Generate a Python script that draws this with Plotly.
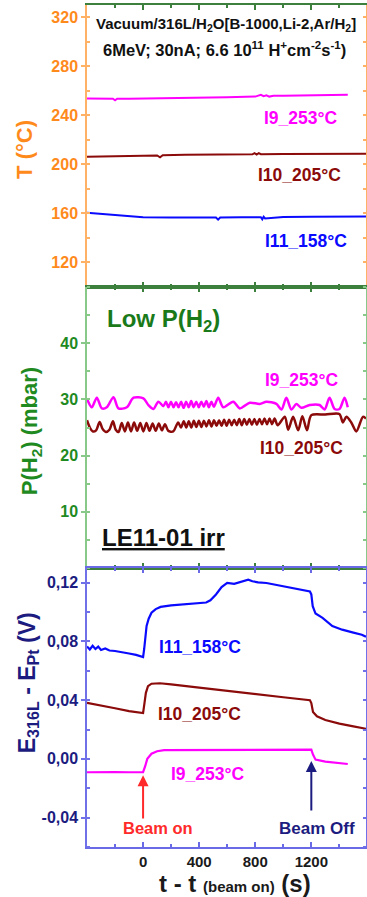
import plotly.graph_objects as go

# ---------------- data ----------------
# Temperature panel (t in s, T in degC)
T_I9_t = [-400, -300, -215, -200, -185, -100, 0, 200, 400, 600, 800, 840, 860, 880, 900, 930, 1000, 1200, 1460]
T_I9 = [253.8, 253.7, 253.5, 252.3, 253.6, 253.6, 253.7, 254.0, 254.3, 254.7, 255.3, 256.8, 255.6, 256.4, 255.3, 255.9, 256.0, 256.3, 256.8]

T_I10_t = [-400, -200, 0, 100, 121, 140, 300, 500, 780, 795, 810, 825, 840, 1000, 1200, 1590]
T_I10 = [206.3, 206.6, 207.0, 207.3, 205.8, 207.5, 207.8, 208.0, 208.2, 209.2, 208.0, 209.2, 208.3, 208.4, 208.5, 208.6]

T_I11_t = [-400, -300, -200, -100, 0, 200, 400, 520, 535, 550, 700, 840, 850, 860, 870, 1000, 1200, 1590]
T_I11 = [160.5, 159.6, 158.3, 157.3, 156.9, 156.6, 156.5, 156.6, 154.9, 156.7, 156.8, 156.9, 155.2, 157.3, 155.9, 157.1, 157.3, 157.5]

# Pressure panel (t, P(H2) mbar)
P_I9 = [(-400, 30.1), (-366, 28.6), (-330, 30.3), (-294, 28.4), (-259, 28.6), (-211, 30.4), (-176, 28.4),
        (-116, 28.6), (-68, 30.3), (2, 30.2), (38, 29.0), (74, 28.3), (109, 29.6), (145, 28.8), (163, 29.6),
        (181, 28.6), (199, 29.6), (217, 28.6), (235, 29.5), (253, 28.6), (271, 29.6), (289, 28.5), (307, 29.6),
        (325, 28.6), (343, 29.7), (361, 28.6), (379, 29.6), (397, 28.6), (415, 29.6), (433, 28.7), (451, 29.7),
        (469, 28.6), (487, 29.6), (505, 28.7), (536, 30.3), (572, 28.6), (643, 29.6), (690, 28.4), (761, 29.4),
        (832, 29.2), (880, 29.6), (951, 29.2), (987, 28.2), (1022, 30.3), (1058, 28.2), (1093, 29.2),
        (1129, 28.5), (1188, 29.0), (1259, 29.0), (1295, 28.2), (1330, 30.3), (1366, 28.3), (1401, 28.3),
        (1437, 30.3), (1460, 28.6)]

P_I10 = [(-400, 26.3), (-380, 25.0), (-360, 24.3), (-335, 24.5), (-310, 26.0), (-290, 24.8), (-265, 24.2),
         (-240, 24.6), (-215, 26.1), (-195, 24.6), (-175, 24.2), (-152, 25.8), (-130, 24.3), (-108, 25.9),
         (-86, 24.3), (-64, 25.9), (-42, 24.4), (-20, 25.8), (2, 24.3), (24, 25.8), (46, 24.4), (68, 25.7),
         (90, 24.4), (112, 25.7), (134, 24.5), (156, 25.6), (180, 24.4), (215, 24.3), (250, 25.9), (270, 25.0),
         (290, 26.1), (308, 25.0), (326, 26.1), (344, 25.0), (362, 26.2), (380, 25.1), (398, 26.2), (416, 25.1),
         (434, 26.2), (452, 25.2), (470, 26.3), (488, 25.2), (506, 26.3), (524, 25.3), (542, 26.3), (560, 25.3),
         (578, 26.4), (596, 25.3), (614, 26.4), (632, 25.4), (650, 26.4), (668, 25.4), (686, 26.5), (704, 25.4),
         (722, 26.5), (740, 25.5), (758, 26.5), (776, 25.5), (794, 26.5), (812, 25.5), (830, 26.5), (848, 25.6),
         (866, 26.6), (884, 25.6), (902, 26.6), (920, 25.6), (938, 26.6), (960, 25.4), (1011, 26.9), (1035, 24.6),
         (1070, 26.9), (1106, 24.5), (1136, 27.0), (1169, 24.5), (1200, 27.2), (1300, 27.3), (1400, 27.4),
         (1425, 25.9), (1450, 26.9), (1485, 25.9), (1521, 24.3), (1568, 26.9), (1590, 26.6)]

# Potential panel (t, E316L - EPt in V)
E_I11 = [(-400, 0.0766), (-380, 0.0745), (-360, 0.0770), (-340, 0.0748), (-320, 0.0765), (-300, 0.0742),
         (-270, 0.0752), (-240, 0.0738), (-200, 0.0735), (-150, 0.0728), (-100, 0.0718), (-50, 0.0708),
         (-10, 0.0695), (0, 0.0693), (8, 0.0750), (15, 0.0840), (25, 0.0905), (40, 0.0955), (60, 0.0995),
         (90, 0.1020), (125, 0.1035), (200, 0.1045), (300, 0.1052), (400, 0.1060), (450, 0.1065), (480, 0.1080),
         (520, 0.1120), (560, 0.1170), (600, 0.1198), (650, 0.1192), (700, 0.1205), (750, 0.1220), (780, 0.1210),
         (820, 0.1202), (880, 0.1198), (950, 0.1185), (1050, 0.1165), (1120, 0.1150), (1190, 0.1140),
         (1200, 0.1120), (1210, 0.1040), (1230, 0.0990), (1280, 0.0960), (1350, 0.0905), (1420, 0.0880),
         (1500, 0.0860), (1560, 0.0845), (1590, 0.0832)]

E_I10 = [(-400, 0.0382), (-300, 0.0365), (-200, 0.0345), (-100, 0.0325), (-10, 0.0310), (0, 0.0312),
         (10, 0.0380), (20, 0.0450), (35, 0.0495), (60, 0.0512), (120, 0.0515), (200, 0.0508), (400, 0.0485),
         (600, 0.0462), (800, 0.0440), (1000, 0.0420), (1190, 0.0400), (1200, 0.0380), (1212, 0.0320),
         (1240, 0.0290), (1300, 0.0265), (1400, 0.0240), (1500, 0.0222), (1590, 0.0205)]

E_I9 = [(-400, -0.0091), (-300, -0.0090), (-250, -0.0086), (-200, -0.0090), (-100, -0.0091), (-10, -0.0092),
        (0, -0.0090), (15, -0.0050), (30, 0.0000), (60, 0.0035), (100, 0.0052), (150, 0.0060), (400, 0.0060),
        (800, 0.0060), (1000, 0.0062), (1200, 0.0063), (1212, 0.0030), (1230, -0.0005), (1300, -0.0018),
        (1400, -0.0028), (1460, -0.0035)]

x_tickvals = [0, 400, 800, 1200]
x_ticktext = ["0", "400", "800", "1200"]
T_tickvals = [120, 160, 200, 240, 280, 320]
P_tickvals = [10, 20, 30, 40]
E_tickvals = [-0.04, 0.0, 0.04, 0.08, 0.12]
E_ticktext = ["-0,04", "0,00", "0,04", "0,08", "0,12"]

# ---------------- styles ----------------
MAG = "#ff00ff"
DRED = "#8b0a0a"
BLUE = "#0a0aff"
ORANGE = "#ff8a1c"
GREEN = "#1f8a1f"
NAVY = "#1c1c80"
FONT = "Liberation Sans"

fig = go.Figure()


def xy(pairs):
    return [p[0] for p in pairs], [p[1] for p in pairs]


fig.add_trace(go.Scatter(x=T_I9_t, y=T_I9, mode="lines", line=dict(color=MAG, width=2), xaxis="x", yaxis="y"))
fig.add_trace(go.Scatter(x=T_I10_t, y=T_I10, mode="lines", line=dict(color=DRED, width=2), xaxis="x", yaxis="y"))
fig.add_trace(go.Scatter(x=T_I11_t, y=T_I11, mode="lines", line=dict(color=BLUE, width=2), xaxis="x", yaxis="y"))

for pairs, col in [(P_I9, MAG), (P_I10, DRED)]:
    xs, ys = xy(pairs)
    fig.add_trace(go.Scatter(x=xs, y=ys, mode="lines", line=dict(color=col, width=2.5, shape="spline", smoothing=0.8),
                             xaxis="x2", yaxis="y2"))

for pairs, col in [(E_I11, BLUE), (E_I10, DRED), (E_I9, MAG)]:
    xs, ys = xy(pairs)
    fig.add_trace(go.Scatter(x=xs, y=ys, mode="lines", line=dict(color=col, width=2.2), xaxis="x3", yaxis="y3"))

XR = [-400, 1590]
d3 = [0, 279 / 842]
d2 = [279 / 842, 560 / 842]
d1 = [560 / 842, 1]


def xax(anchor, linecolor, labels):
    return dict(range=XR, anchor=anchor, domain=[0, 1], showline=True, mirror="ticks", linecolor=linecolor,
                linewidth=1.5, ticks="inside", ticklen=5, tickwidth=1.5, tickcolor=linecolor,
                tickvals=x_tickvals, ticktext=x_ticktext, showticklabels=labels, showgrid=False, zeroline=False,
                automargin=False,
                tickfont=dict(family=FONT, size=15, color="#1a1a1a", weight="bold"),
                minor=dict(dtick=200, tick0=0, ticks="inside", ticklen=3, tickcolor=linecolor))


def yax(anchor, dom, rng, tv, tt, col, linecol, minor_dt):
    d = dict(range=rng, anchor=anchor, domain=dom, showline=True, mirror="ticks", linecolor=linecol,
             linewidth=1.5, ticks="outside", ticklen=4, tickwidth=1.5, tickcolor=linecol,
             tickvals=tv, showgrid=False, zeroline=False, automargin=False,
             tickfont=dict(family=FONT, size=16, color=col, weight="bold"),
             minor=dict(dtick=minor_dt, ticks="inside", ticklen=3, tickcolor=linecol))
    if tt is not None:
        d["ticktext"] = tt
    return d


fig.update_layout(
    template="none",
    width=367, height=897,
    margin=dict(l=87, r=1, t=5, b=50, autoexpand=False),
    paper_bgcolor="white", plot_bgcolor="white",
    showlegend=False,
    font=dict(family=FONT),
    xaxis=xax("y", "#3d7f3d", False),
    xaxis2=xax("y2", "#3d7f3d", False),
    xaxis3=xax("y3", "#6a6ae6", True),
    yaxis=yax("x", d1, [100, 330], T_tickvals, None, ORANGE, "#ffb266", 20),
    yaxis2=yax("x2", d2, [0, 50], P_tickvals, None, GREEN, "#88c888", 5),
    yaxis3=yax("x3", d3, [-0.06, 0.13], E_tickvals, E_ticktext, NAVY, "#7070e8", 0.02),
)


def bold(size, color):
    return dict(family=FONT, size=size, color=color, weight="bold")


def label(x, y, xref, yref, text, font, xanchor="center", angle=0):
    return dict(x=x, y=y, xref=xref, yref=yref, text=text, font=font, showarrow=False,
                xanchor=xanchor, yanchor="middle", textangle=angle)


ann = []
# top panel
ann.append(label(591, 314.5, "x", "y", "Vacuum/316L/H<sub>2</sub>O[B-1000,Li-2,Ar/H<sub>2</sub>]",
                 bold(15, "#111111")))
ann.append(label(584, 294, "x", "y",
                 "6MeV; 30nA; 6.6 10<sup>11</sup> H<sup>+</sup>cm<sup>-2</sup>s<sup>-1</sup>)",
                 bold(16.5, "#111111")))
ann.append(label(1124, 238, "x", "y", "I9_253°C", bold(17.5, MAG)))
ann.append(label(1117, 191.3, "x", "y", "I10_205°C", bold(17.5, DRED)))
ann.append(label(1160, 137.9, "x", "y", "I11_158°C", bold(17.5, BLUE)))
# middle panel
ann.append(label(-270, 44, "x2", "y2", "Low P(H<sub>2</sub>)", bold(24, "#1a7a1a"), xanchor="left"))
ann.append(label(1132, 33.4, "x2", "y2", "I9_253°C", bold(17.5, MAG)))
ann.append(label(1132, 21.3, "x2", "y2", "I10_205°C", bold(17.5, DRED)))
ann.append(label(149, 5.4, "x2", "y2", "<u>LE11-01 irr</u>", bold(24, "#111111")))
# bottom panel
ann.append(label(406, 0.0764, "x3", "y3", "I11_158°C", bold(17.5, BLUE)))
ann.append(label(399, 0.0303, "x3", "y3", "I10_205°C", bold(17.5, DRED)))
ann.append(label(463, -0.0104, "x3", "y3", "I9_253°C", bold(17.5, MAG)))
ann.append(label(103, -0.0471, "x3", "y3", "Beam on", bold(16.5, "#ff2a2a")))
ann.append(label(1242, -0.0471, "x3", "y3", "Beam Off", bold(17, NAVY)))
ann.append(dict(x=0, y=-0.0111, ax=0, ay=-0.0416, xref="x3", yref="y3", axref="x3", ayref="y3",
                showarrow=True, arrowhead=2, arrowsize=1.1, arrowwidth=2, arrowcolor="#ff2a2a", text=""))
ann.append(dict(x=1200, y=-0.0014, ax=1200, ay=-0.0362, xref="x3", yref="y3", axref="x3", ayref="y3",
                showarrow=True, arrowhead=2, arrowsize=1.1, arrowwidth=2, arrowcolor=NAVY, text=""))
# axis titles
ann.append(label(-0.222, 0.828, "paper", "paper", "T (°C)", bold(22, ORANGE), angle=-90))
ann.append(label(-0.20, 0.494, "paper", "paper", "P(H<sub>2</sub>) (mbar)", bold(22, GREEN), angle=-90))
ann.append(label(-0.21, 0.195, "paper", "paper", "E<sub>316L</sub> - E<sub>Pt</sub> (V)", bold(23, NAVY),
                 angle=-90))
ann.append(label(0.53, -0.0435, "paper", "paper",
                 "t - t <span style='font-size:15px'>(beam on)</span> (s)", bold(24, "#1a1a1a")))

fig.update_layout(annotations=ann)
fig.write_html("out.html", config={"displayModeBar": False},
               post_script="document.body.style.margin='0px';document.body.style.padding='0px';")
